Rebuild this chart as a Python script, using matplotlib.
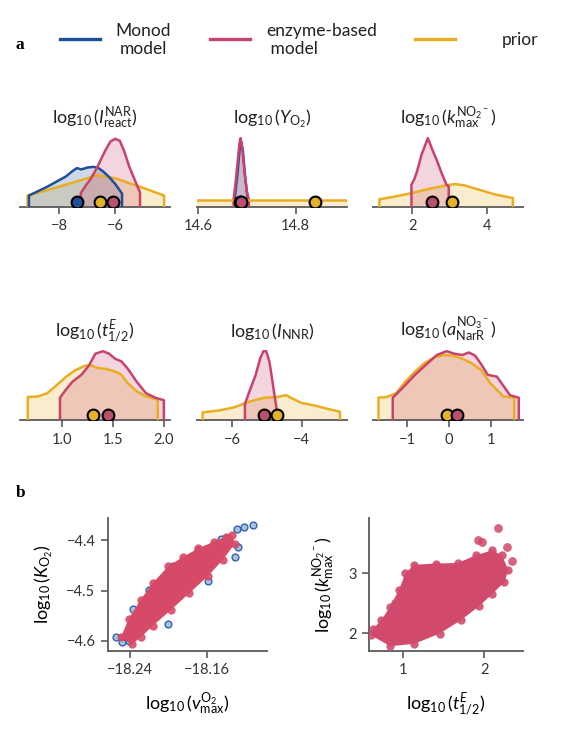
import matplotlib
matplotlib.use('Agg')
import matplotlib.pyplot as plt
from matplotlib.lines import Line2D

plt.rcParams['font.family'] = ['Lato', 'DejaVu Sans']
plt.rcParams['mathtext.fontset'] = 'custom'
plt.rcParams['mathtext.rm'] = 'Lato'
plt.rcParams['mathtext.it'] = 'Lato:italic'
plt.rcParams['mathtext.bf'] = 'Lato:bold'
plt.rcParams['axes.unicode_minus'] = True

BLUE = '#1f4f99'
RED = '#c8436b'
YELLOW = '#e9ad22'
MRED = '#b8506e'
MYEL = '#e3b22c'
SPINE = '#5a5a5a'

# ---------------- panel a data (relative densities) ----------------
# 1: log10(I_react^NAR)
p1_monod_x = [-9.08, -8.75, -8.42, -8.09, -7.76, -7.54, -7.37, -7.21, -6.99, -6.77, -6.60, -6.44, -6.22, -6.00, -5.84, -5.76]
p1_monod_y = [0.10, 0.17, 0.24, 0.32, 0.40, 0.48, 0.53, 0.51, 0.54, 0.55, 0.53, 0.48, 0.39, 0.28, 0.18, 0.13]
p1_enz_x = [-7.23, -7.05, -6.88, -6.66, -6.50, -6.33, -6.17, -6.00, -5.84, -5.67, -5.51, -5.34, -5.18, -5.12]
p1_enz_y = [0.14, 0.26, 0.36, 0.53, 0.68, 0.83, 0.95, 0.99, 0.96, 0.78, 0.56, 0.38, 0.21, 0.15]
p1_prior_x = [-9.13, -8.00, -7.00, -6.66, -6.00, -5.01, -4.26]
p1_prior_y = [0.10, 0.24, 0.37, 0.42, 0.37, 0.22, 0.10]
p1_medians = {'monod': -7.37, 'prior': -6.55, 'enz': -6.09}

# 2: log10(Y_O2)
p2_monod_x = [14.675, 14.681, 14.686, 14.688, 14.692, 14.697, 14.702]
p2_monod_y = [0.04, 0.45, 0.90, 0.95, 0.80, 0.35, 0.04]
p2_enz_x = [14.673, 14.677, 14.681, 14.685, 14.687, 14.690, 14.695, 14.700, 14.704]
p2_enz_y = [0.05, 0.30, 0.62, 0.92, 1.00, 0.88, 0.50, 0.16, 0.04]
p2_prior_x = [14.58, 14.93]
p2_prior_y = [0.03, 0.03]
p2_medians = {'monod': 14.687, 'enz': 14.688, 'prior': 14.839}

# 3: log10(k_max^NO2-)
p3_enz_x = [1.98, 2.06, 2.13, 2.25, 2.42, 2.54, 2.67, 2.79, 2.92, 2.98]
p3_enz_y = [0.27, 0.36, 0.48, 0.74, 1.00, 0.82, 0.64, 0.45, 0.27, 0.24]
p3_prior_x = [1.12, 1.50, 2.00, 2.50, 2.90, 3.15, 3.40, 3.80, 4.20, 4.70]
p3_prior_y = [0.04, 0.08, 0.14, 0.21, 0.26, 0.28, 0.26, 0.19, 0.12, 0.06]
p3_medians = {'enz': 2.52, 'prior': 3.07}

# 4: log10(t_1/2^E)
p4_prior_x = [0.67, 0.77, 0.86, 0.955, 1.045, 1.135, 1.225, 1.285, 1.345, 1.435, 1.525, 1.585, 1.645, 1.735, 1.826, 1.94]
p4_prior_y = [0.28, 0.29, 0.34, 0.47, 0.60, 0.70, 0.77, 0.78, 0.74, 0.72, 0.68, 0.63, 0.50, 0.37, 0.29, 0.24]
p4_enz_x = [0.985, 1.03, 1.105, 1.195, 1.27, 1.33, 1.405, 1.465, 1.525, 1.585, 1.645, 1.735, 1.826, 1.916, 2.00]
p4_enz_y = [0.27, 0.37, 0.52, 0.63, 0.78, 0.96, 1.00, 0.96, 0.88, 0.84, 0.73, 0.52, 0.34, 0.27, 0.23]
p4_medians = {'prior': 1.31, 'enz': 1.45}

# 5: log10(I_NNR)
p5_prior_x = [-6.84, -6.37, -5.93, -5.50, -5.06, -4.71, -4.45, -4.32, -4.02, -3.58, -3.23, -2.91]
p5_prior_y = [0.04, 0.07, 0.12, 0.21, 0.27, 0.28, 0.31, 0.27, 0.19, 0.14, 0.09, 0.05]
p5_enz_x = [-5.63, -5.50, -5.32, -5.19, -5.10, -5.02, -4.93, -4.84, -4.76, -4.71]
p5_enz_y = [0.17, 0.37, 0.63, 0.89, 1.00, 1.00, 0.84, 0.52, 0.22, 0.05]
p5_medians = {'enz': -5.08, 'prior': -4.71}

# 6: log10(a_NarR^NO3-)
p6_prior_x = [-1.68, -1.49, -1.26, -1.04, -0.81, -0.59, -0.36, -0.14, 0.09, 0.32, 0.54, 0.77, 0.98, 1.29, 1.55]
p6_prior_y = [0.27, 0.28, 0.34, 0.52, 0.68, 0.81, 0.90, 0.94, 0.93, 0.88, 0.81, 0.70, 0.50, 0.29, 0.27]
p6_enz_x = [-1.34, -1.11, -0.81, -0.51, -0.29, -0.06, 0.13, 0.32, 0.47, 0.62, 0.77, 0.92, 1.14, 1.45, 1.66]
p6_enz_y = [0.27, 0.42, 0.63, 0.81, 0.94, 1.00, 0.96, 0.94, 0.98, 0.93, 0.79, 0.63, 0.60, 0.31, 0.27]
p6_medians = {'prior': -0.05, 'enz': 0.20}

titles = [r'$\log_{10}(I^{\mathrm{NAR}}_{\mathrm{react}})$',
          r'$\log_{10}(Y_{\mathrm{O_2}})$',
          r'$\log_{10}(k^{\mathrm{NO_2{}^-}}_{\mathrm{max}})$',
          r'$\log_{10}(t^{E}_{1/2})$',
          r'$\log_{10}(I_{\mathrm{NNR}})$',
          r'$\log_{10}(a^{\mathrm{NO_3{}^-}}_{\mathrm{NarR}})$']
xlims = [(-9.4, -4.05), (14.598, 14.905), (0.95, 4.97),
         (0.594, 2.06), (-7.0, -2.71), (-1.81, 1.76)]
xticks = [[-8, -6], [14.6, 14.8], [2, 4], [1.0, 1.5, 2.0], [-6, -4], [-1, 0, 1]]
xticklabels = [['\u22128', '\u22126'], ['14.6', '14.8'], ['2', '4'],
               ['1.0', '1.5', '2.0'], ['\u22126', '\u22124'], ['\u22121', '0', '1']]

panels = [
    [(p1_prior_x, p1_prior_y, YELLOW), (p1_monod_x, p1_monod_y, BLUE), (p1_enz_x, p1_enz_y, RED)],
    [(p2_monod_x, p2_monod_y, BLUE), (p2_enz_x, p2_enz_y, RED), (p2_prior_x, p2_prior_y, YELLOW)],
    [(p3_prior_x, p3_prior_y, YELLOW), (p3_enz_x, p3_enz_y, RED)],
    [(p4_prior_x, p4_prior_y, YELLOW), (p4_enz_x, p4_enz_y, RED)],
    [(p5_prior_x, p5_prior_y, YELLOW), (p5_enz_x, p5_enz_y, RED)],
    [(p6_prior_x, p6_prior_y, YELLOW), (p6_enz_x, p6_enz_y, RED)],
]
medians = [p1_medians, p2_medians, p3_medians, p4_medians, p5_medians, p6_medians]
mcolors = {'monod': BLUE, 'enz': MRED, 'prior': MYEL}

# ---------------- panel b data ----------------
# left: log10(v_max^O2) vs log10(K_O2), enzyme-based posterior cloud outline
b1_enz_x = [-18.2384, -18.2495, -18.2416, -18.2290, -18.2163, -18.2005, -18.1847, -18.1689, -18.1530,
            -18.1400, -18.1340, -18.1310, -18.1436, -18.1594, -18.1783, -18.1973, -18.2163, -18.2290]
b1_enz_y = [-4.607, -4.593, -4.557, -4.518, -4.485, -4.452, -4.433, -4.416, -4.403,
            -4.393, -4.390, -4.407, -4.439, -4.472, -4.505, -4.538, -4.570, -4.593]
# Monod posterior samples visible around the cloud
b1_monod_x = [-18.2368, -18.1957, -18.1690, -18.1293, -18.1214, -18.1120, -18.1277, -18.1310,
              -18.1594, -18.2005, -18.2542, -18.2480, -18.2416, -18.2200, -18.1450, -18.1380]
b1_monod_y = [-4.536, -4.452, -4.420, -4.377, -4.374, -4.370, -4.413, -4.433,
              -4.482, -4.567, -4.593, -4.603, -4.600, -4.498, -4.398, -4.395]
# right: log10(t_1/2^E) vs log10(k_max^NO2-)
b2_enz_x = [0.61, 0.84, 1.14, 1.45, 1.71, 1.94, 2.10, 2.25, 2.30, 2.22, 2.10, 1.90,
            1.68, 1.41, 1.14, 1.03, 0.95, 0.84, 0.73, 0.63]
b2_enz_y = [1.96, 1.78, 1.82, 1.99, 2.21, 2.45, 2.65, 2.85, 3.05, 3.30, 3.38, 3.30,
            3.17, 3.16, 3.14, 3.00, 2.72, 2.44, 2.21, 2.07]
b2_out_x = [2.17, 1.93, 1.98, 2.28, 0.90, 2.35]
b2_out_y = [3.75, 3.55, 3.52, 3.43, 2.50, 3.20]

W, H = 572, 729
fig = plt.figure(figsize=(W / 100, H / 100), dpi=100)


def fr(l, t, w, h):
    return [l / W, 1 - (t + h) / H, w / W, h / H]


lefts = [20, 197, 373]
tops = [135, 348]
YB = -0.08
for i in range(6):
    ax = fig.add_axes(fr(lefts[i % 3], tops[i // 3], 150, 72))
    for (x, y, c) in panels[i]:
        ax.fill_between(x, YB, y, color=c, alpha=0.22, lw=0, zorder=2)
        ax.plot([x[0]] + list(x) + [x[-1]], [YB] + list(y) + [YB], color=c, lw=1.8,
                zorder=3, solid_joinstyle='round')
    for k, v in medians[i].items():
        ax.plot(v, 0, 'o', ms=8.5, mfc=mcolors[k], mec='black', mew=1.5, zorder=10)
    ax.set_xlim(xlims[i])
    ax.set_ylim(YB, 1.05)
    ax.set_xticks(xticks[i])
    ax.set_xticklabels(xticklabels[i])
    ax.set_yticks([])
    for s in ['top', 'right', 'left']:
        ax.spines[s].set_visible(False)
    ax.spines['bottom'].set_color(SPINE)
    ax.spines['bottom'].set_linewidth(1.3)
    ax.tick_params(axis='x', length=5, width=1.2, color=SPINE, labelsize=10.5, pad=4, labelcolor='#333333')
    ax.set_facecolor('none')
    ax.set_title(titles[i], fontsize=13, pad=8, color='#222222')

# legend
fig.text(16 / W, 1 - 45 / H, 'a', fontsize=12.5, fontweight='bold', family='Liberation Serif',
         ha='left', va='center')
for (x0, x1, c) in [(60, 100, BLUE), (210, 250, RED), (415, 455, YELLOW)]:
    fig.add_artist(Line2D([x0 / W, x1 / W], [1 - 39 / H] * 2, color=c, lw=2.4))
fig.text(143 / W, 1 - 40 / H, 'Monod\nmodel', fontsize=12.5, ha='center', va='center',
         multialignment='center', linespacing=1.2, color='#222222')
fig.text(266 / W, 1 - 40 / H, 'enzyme-based\n model', fontsize=12.5, ha='left', va='center',
         multialignment='left', linespacing=1.2, color='#222222')
fig.text(520 / W, 1 - 40 / H, 'prior', fontsize=12.5, ha='center', va='center', color='#222222')

# panel b
fig.text(16 / W, 1 - 493 / H, 'b', fontsize=12.5, fontweight='bold', family='Liberation Serif',
         ha='left', va='center')

axl = fig.add_axes(fr(108, 518, 159, 133))
axl.scatter(b1_monod_x, b1_monod_y, s=24, facecolors='#a9c2e4', edgecolors='#2f64ad', linewidths=1.0, zorder=2)
axl.fill(b1_enz_x, b1_enz_y, color='#d64a67', lw=0, zorder=3)
axl.scatter(b1_enz_x, b1_enz_y, s=36, color='#d64a67', alpha=0.9, lw=0, zorder=4)
axl.set_xlim(-18.2629, -18.0977)
axl.set_ylim(-4.62, -4.356)
axl.set_xticks([-18.24, -18.16])
axl.set_xticklabels(['\u221218.24', '\u221218.16'])
axl.set_yticks([-4.6, -4.5, -4.4])
axl.set_yticklabels(['\u22124.6', '\u22124.5', '\u22124.4'])
axl.set_xlabel(r'$\log_{10}(v^{\mathrm{O_2}}_{\mathrm{max}})$', fontsize=13, labelpad=10)
axl.set_ylabel(r'$\log_{10}(K_{\mathrm{O_2}})$', fontsize=13, labelpad=8)

axr = fig.add_axes(fr(369, 518, 154, 133))
axr.fill(b2_enz_x, b2_enz_y, color='#d14a6c', lw=0, zorder=3)
axr.scatter(b2_enz_x, b2_enz_y, s=36, color='#d14a6c', alpha=0.9, lw=0, zorder=4)
axr.scatter(b2_out_x, b2_out_y, s=40, color='#d14a6c', alpha=0.85, lw=0, zorder=4)
axr.set_xlim(0.58, 2.48)
axr.set_ylim(1.7, 3.92)
axr.set_xticks([1, 2])
axr.set_yticks([2, 3])
axr.set_xlabel(r'$\log_{10}(t^{E}_{1/2})$', fontsize=13, labelpad=10)
axr.set_ylabel(r'$\log_{10}(k^{\mathrm{NO_2{}^-}}_{\mathrm{max}})$', fontsize=13, labelpad=8)

for ax in (axl, axr):
    for s in ['top', 'right']:
        ax.spines[s].set_visible(False)
    for s in ['bottom', 'left']:
        ax.spines[s].set_color(SPINE)
        ax.spines[s].set_linewidth(1.3)
    ax.tick_params(length=5, width=1.2, color=SPINE, labelsize=10.5, pad=4, labelcolor='#333333')

fig.savefig('out.png', dpi=100)
